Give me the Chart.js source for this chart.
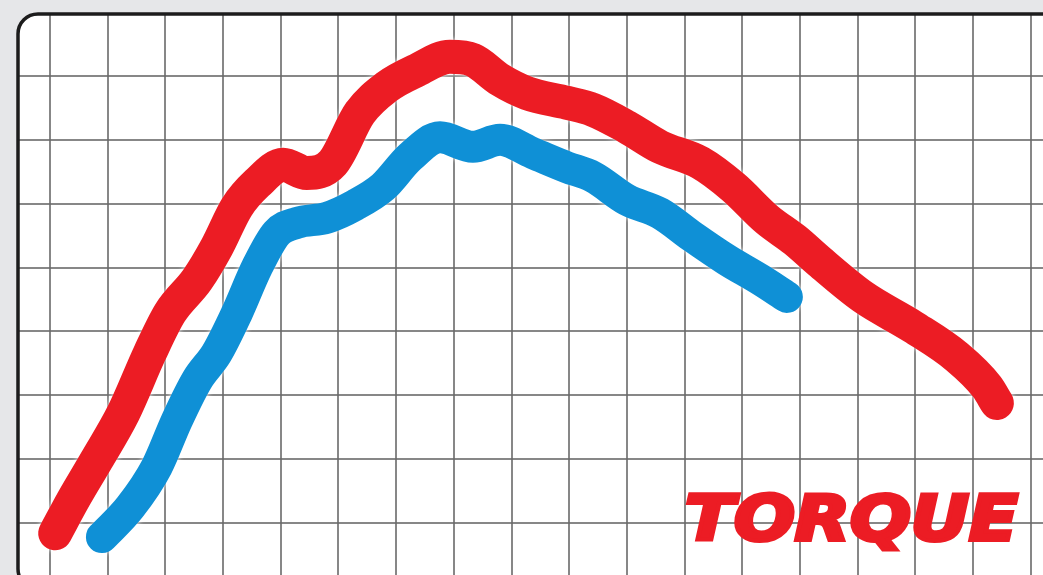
<!DOCTYPE html>
<html>
<head>
<meta charset="utf-8">
<script src="https://cdn.jsdelivr.net/npm/chart.js@4"></script>
<style>
  html, body { margin: 0; padding: 0; background: #e6e7e9; }
  #wrap { width: 1043px; height: 575px; position: relative; }
</style>
</head>
<body>
<div id="wrap"><canvas id="torque-chart"></canvas></div>
<script>
// engine speed in grid columns, torque in grid rows (no labels on the original)
const redRpm = [0.09, 0.40, 0.81, 1.27, 1.73, 2.08, 2.55, 2.89, 3.24, 3.59, 4.04, 4.45, 4.90, 5.37, 5.84, 6.36, 6.93, 7.33, 7.80, 8.27, 8.96, 9.41, 10.00, 10.57, 11.27, 11.84, 12.43, 12.91, 13.34, 14.09, 14.96, 15.72, 16.24, 16.41];
const redTorque = [-0.16, 0.36, 0.99, 1.72, 2.66, 3.29, 3.81, 4.32, 4.95, 5.32, 5.61, 5.48, 5.64, 6.42, 6.83, 7.09, 7.30, 7.25, 6.94, 6.73, 6.58, 6.47, 6.20, 5.89, 5.64, 5.26, 4.75, 4.43, 4.09, 3.54, 3.07, 2.60, 2.13, 1.88];

const blueRpm = [0.90, 1.39, 1.85, 2.20, 2.55, 2.89, 3.24, 3.59, 3.93, 4.28, 4.80, 5.29, 5.77, 6.24, 6.76, 7.33, 7.80, 8.37, 8.96, 9.41, 10.00, 10.57, 11.14, 11.73, 12.31, 12.77];
const blueTorque = [-0.22, 0.25, 0.88, 1.61, 2.24, 2.66, 3.29, 4.01, 4.54, 4.70, 4.78, 4.98, 5.26, 5.73, 6.04, 5.89, 6.00, 5.79, 5.57, 5.42, 5.06, 4.85, 4.48, 4.12, 3.81, 3.54];

const RED = '#ec1c24';
const BLUE = '#0f90d6';

function toPoints(xs, ys) {
  return xs.map((x, i) => ({ x: x, y: ys[i] }));
}

// rounded frame path, runs off the right and bottom edge like the picture
function framePath(ctx) {
  const x = 18, y = 14, w = 1060, h = 575, r = 20;
  ctx.beginPath();
  ctx.moveTo(x + r, y);
  ctx.lineTo(x + w, y);
  ctx.lineTo(x + w, y + h);
  ctx.lineTo(x + r, y + h);
  ctx.arcTo(x, y + h, x, y + h - r, r);
  ctx.lineTo(x, y + r);
  ctx.arcTo(x, y, x + r, y, r);
  ctx.closePath();
}

const framePlugin = {
  id: 'frame',
  beforeDraw: function(chart) {
    const ctx = chart.ctx;
    ctx.save();
    ctx.fillStyle = '#e6e7e9';
    ctx.fillRect(0, 0, chart.width, chart.height);
    framePath(ctx);
    ctx.fillStyle = '#ffffff';
    ctx.fill();
    ctx.restore();
  },
  beforeDatasetDraw: function(chart) {
    chart.ctx.save();
    chart.ctx.shadowColor = 'rgba(255,255,255,0.95)';
    chart.ctx.shadowBlur = 5;
  },
  afterDatasetDraw: function(chart) {
    chart.ctx.restore();
  },
  afterDraw: function(chart) {
    const ctx = chart.ctx;
    ctx.save();
    // TORQUE label, stretched and thickened to look like the heavy logo type
    ctx.font = 'italic bold 62px "DejaVu Sans"';
    ctx.fillStyle = RED;
    ctx.strokeStyle = RED;
    ctx.lineWidth = 4;
    ctx.lineJoin = 'miter';
    ctx.textBaseline = 'alphabetic';
    const w = ctx.measureText('TORQUE').width;
    ctx.translate(685, 540);
    ctx.scale(333 / w, 1);
    ctx.fillText('TORQUE', 0, 0);
    ctx.strokeText('TORQUE', 0, 0);
    ctx.restore();

    ctx.save();
    framePath(ctx);
    ctx.lineWidth = 3.5;
    ctx.strokeStyle = '#1c1c1c';
    ctx.stroke();
    ctx.restore();
  }
};

function createTorqueChart() {
  const ctx = document.getElementById('torque-chart').getContext('2d');
  new Chart(ctx, {
    type: 'line',
    data: {
      datasets: [{
        label: 'Blue',
        data: toPoints(blueRpm, blueTorque),
        borderColor: BLUE,
        borderWidth: 32,
        order: 0
      }, {
        label: 'Red',
        data: toPoints(redRpm, redTorque),
        borderColor: RED,
        borderWidth: 34,
        order: 1
      }]
    },
    options: {
      responsive: true,
      maintainAspectRatio: false,
      animation: false,
      layout: { padding: { left: 18, top: 14, right: 0, bottom: 0 } },
      elements: {
        line: { tension: 0.4, cubicInterpolationMode: 'monotone', borderCapStyle: 'round', borderJoinStyle: 'round', fill: false },
        point: { radius: 0, hoverRadius: 0 }
      },
      plugins: {
        legend: { display: false },
        tooltip: { enabled: false }
      },
      scales: {
        x: {
          type: 'linear',
          min: -0.5546,
          max: 17.21,
          ticks: { display: false, stepSize: 1, includeBounds: false },
          grid: { color: 'rgba(105,105,105,0.8)', lineWidth: 2, drawTicks: false },
          border: { display: false }
        },
        y: {
          type: 'linear',
          min: -0.814,
          max: 7.97,
          ticks: { display: false, stepSize: 1, includeBounds: false },
          grid: { color: 'rgba(105,105,105,0.8)', lineWidth: 2, drawTicks: false },
          border: { display: false }
        }
      }
    },
    plugins: [framePlugin]
  });
}

document.addEventListener('DOMContentLoaded', () => {
  createTorqueChart();
});
</script>
</body>
</html>
